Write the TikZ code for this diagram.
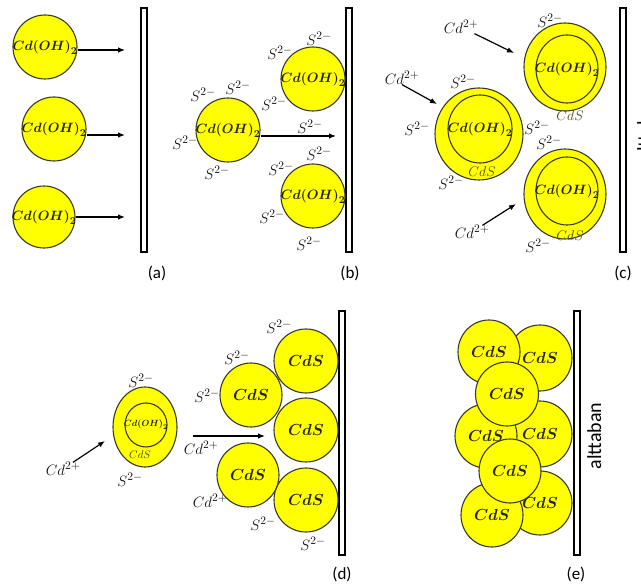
\RequirePackage{fix-cm}
\documentclass[tikz,border=0pt]{standalone}
\usepackage{fontspec}
\usepackage{bm}
\newfontfamily\labelfont{Carlito}
\usetikzlibrary{arrows.meta,shapes.geometric}

% larger script sizes so that charges read well next to the symbols
\DeclareMathSizes{9}{9}{7}{5}
\DeclareMathSizes{11}{11}{8.5}{6}
\DeclareMathSizes{13.5}{13.5}{10.5}{8}
\DeclareMathSizes{15}{15}{11.5}{8}
\DeclareMathSizes{16}{16}{12}{9}

\definecolor{grainfill}{HTML}{FFFF00}
\definecolor{grainedge}{HTML}{3A3A2A}
\definecolor{formula}{HTML}{24240E}
\definecolor{ion}{HTML}{101010}
\definecolor{shell}{HTML}{4A4A0E}

\newcommand{\hydroxide}{$\bm{Cd(OH)_2}$}
\newcommand{\sulfide}{$S^{2-}$}
\newcommand{\cadmium}{$Cd^{2+}$}
\newcommand{\cdsbold}{$\bm{CdS}$}
\newcommand{\cdsthin}{$CdS$}

\tikzset{
  grain/.style={ellipse, draw=grainedge, fill=grainfill, line width=1.1pt, inner sep=0pt},
  core/.style={ellipse, draw=grainedge, line width=1.1pt, inner sep=0pt},
  hydtext/.style={inner sep=0pt, text=formula, font=\fontsize{13.5}{16}\selectfont},
  cdstext/.style={inner sep=0pt, text=formula, font=\fontsize{16}{18}\selectfont},
  substrate/.style={rectangle, draw=black, fill=white, line width=2pt, inner sep=0pt},
  ionlabel/.style={text=ion, inner sep=0pt, font=\fontsize{15}{17}\selectfont},
  shelllabel/.style={text=shell, inner sep=0pt, font=\fontsize{14}{16}\selectfont},
  arr/.style={-{Latex[length=7pt,width=5.5pt]}, line width=1.2pt},
  panel/.style={inner sep=0pt, font=\labelfont\fontsize{17}{20}\selectfont},
  basetext/.style={inner sep=0pt, rotate=90, anchor=north,
    font=\labelfont\fontsize{20}{24}\selectfont},
}

\begin{document}
\begin{tikzpicture}[x=1pt,y=-1pt]
\useasboundingbox (0,0) rectangle (641,588);

% ---------------- (a) hydroxide grains moving to the substrate
\node[substrate, minimum width=6pt, minimum height=244pt] (barA) at (144,130) {};
\node[grain, minimum width=64pt, minimum height=64pt] (a1) at (45,47) {};
\node[grain, minimum width=64pt, minimum height=64pt] (a2) at (54,129) {};
\node[grain, minimum width=62pt, minimum height=62pt] (a3) at (44,217) {};
\node[hydtext] (a1t) at (a1) {\hydroxide};
\node[hydtext] (a2t) at (a2) {\hydroxide};
\node[hydtext] (a3t) at (a3) {\hydroxide};
\coordinate (ta1) at (125,50);
\coordinate (ta2) at (125,135);
\coordinate (ta3) at (125,217);
\draw[arr] (a1.east |- ta1) -- (ta1);
\draw[arr] (a2.east |- ta2) -- (ta2);
\draw[arr] (a3.east |- ta3) -- (ta3);
\node[panel] (labA) at (157,273) {(a)};

% ---------------- (b) sulfide ions gather round the grains
\node[substrate, minimum width=6pt, minimum height=244pt] (barB) at (348.5,130) {};
\node[grain, minimum width=64pt, minimum height=64pt] (b1) at (228,130) {};
\node[grain, minimum width=64pt, minimum height=64pt] (b2) at (313,79) {};
\node[grain, minimum width=64pt, minimum height=64pt] (b3) at (313,196) {};
\node[hydtext] (b1t) at (b1) {\hydroxide};
\node[hydtext] (b2t) at (b2) {\hydroxide};
\node[hydtext] (b3t) at (b3) {\hydroxide};
\coordinate (tb) at (336,136);
\draw[arr] (b1.east |- tb) -- (tb);
\node[ionlabel] (sb1) at (203,95) {\sulfide};
\node[ionlabel] (sb2) at (238,88) {\sulfide};
\node[ionlabel] (sb3) at (185,143) {\sulfide};
\node[ionlabel] (sb4) at (217,173) {\sulfide};
\node[ionlabel] (sb5) at (280,53) {\sulfide};
\node[ionlabel] (sb6) at (319,39) {\sulfide};
\node[ionlabel] (sb7) at (274,104) {\sulfide};
\node[ionlabel] (sb8) at (310,127) {\sulfide};
\node[ionlabel] (sb9) at (319,154) {\sulfide};
\node[ionlabel] (sb10) at (281,169) {\sulfide};
\node[ionlabel] (sb11) at (272,217) {\sulfide};
\node[ionlabel] (sb12) at (309,244) {\sulfide};
\node[panel] (labB) at (350,273) {(b)};

% ---------------- (c) a CdS shell grows round each core
\node[substrate, minimum width=6pt, minimum height=244pt] (barC) at (623,130) {};
\node[basetext] (baseC) at (637,128) {alttaban};
\node[grain, minimum width=88pt, minimum height=92pt] (cL) at (479,134) {};
\node[core, minimum width=64pt, minimum height=68pt] (cLi) at (480,129) {};
\node[grain, minimum width=82pt, minimum height=88pt] (cU) at (565,67) {};
\node[core, minimum width=62pt, minimum height=68pt] (cUi) at (567,69) {};
\node[grain, minimum width=82pt, minimum height=90pt] (cD) at (565,194) {};
\node[core, minimum width=62pt, minimum height=68pt] (cDi) at (567,191) {};
\node[hydtext] (cLt) at (cLi) {\hydroxide};
\node[hydtext] (cUt) at (cUi) {\hydroxide};
\node[hydtext] (cDt) at (cDi) {\hydroxide};
\node[shelllabel] (shL) at (482,172) {\cdsthin};
\node[shelllabel] (shU) at (570,116) {\cdsthin};
\node[shelllabel] (shD) at (570,236) {\cdsthin};
\node[ionlabel] (sc1) at (463,82) {\sulfide};
\node[ionlabel] (sc2) at (417,129) {\sulfide};
\node[ionlabel] (sc3) at (451,183) {\sulfide};
\node[ionlabel] (sc4) at (537,128) {\sulfide};
\node[ionlabel] (sc5) at (550,21) {\sulfide};
\node[ionlabel] (sc6) at (549,143) {\sulfide};
\node[ionlabel] (sc7) at (538,246) {\sulfide};
\node[ionlabel] (cc1) at (461,27) {\cadmium};
\node[ionlabel] (cc2) at (402,78) {\cadmium};
\node[ionlabel] (cc3) at (472,232) {\cadmium};
\coordinate (tc1) at (514,53);
\coordinate (tc2) at (437,104);
\coordinate (tc3) at (516,204);
\draw[arr] (cc1) -- (tc1);
\draw[arr] (cc2.south) -- (tc2);
\draw[arr] (cc3) -- (tc3);
\node[panel] (labC) at (623,273) {(c)};

% ---------------- (d) CdS grains settle on the substrate
\node[substrate, minimum width=6pt, minimum height=244pt] (barD) at (342,433) {};
\node[grain, minimum width=64pt, minimum height=80pt] (dE) at (145,427) {};
\node[core, minimum width=42pt, minimum height=44pt] (dEi) at (146,425) {};
\node[hydtext, font=\fontsize{9}{11}\selectfont] (dEt) at (dEi) {\hydroxide};
\node[shelllabel, font=\fontsize{11}{13}\selectfont] (shE) at (140,455) {\cdsthin};
\node[ionlabel] (sd1) at (141,381) {\sulfide};
\node[ionlabel] (sd2) at (130,480) {\sulfide};
\node[ionlabel] (cd1) at (63,469) {\cadmium};
\coordinate (td1) at (105,441);
\draw[arr] (cd1) -- (td1);

\node[grain, minimum width=64pt, minimum height=64pt] (d1) at (306,361) {};
\node[grain, minimum width=64pt, minimum height=64pt] (d2) at (306,430) {};
\node[grain, minimum width=64pt, minimum height=64pt] (d3) at (306,500) {};
\node[grain, minimum width=62pt, minimum height=64pt] (d4) at (251,395) {};
\node[grain, minimum width=62pt, minimum height=64pt] (d5) at (248,475) {};
\node[cdstext] (d1t) at (d1) {\cdsbold};
\node[cdstext] (d2t) at (d2) {\cdsbold};
\node[cdstext] (d3t) at (d3) {\cdsbold};
\node[cdstext] (d4t) at (d4) {\cdsbold};
\node[cdstext] (d5t) at (d5) {\cdsbold};
\coordinate (fd) at (193,436);
\coordinate (td2) at (265,436);
\draw[arr] (fd) -- (td2);
\node[ionlabel] (cd2) at (201,448) {\cadmium};
\node[ionlabel] (cd3) at (210,501) {\cadmium};
\node[ionlabel] (sd3) at (279,327) {\sulfide};
\node[ionlabel] (sd4) at (237,358) {\sulfide};
\node[ionlabel] (sd5) at (207,396) {\sulfide};
\node[ionlabel] (sd6) at (263,524) {\sulfide};
\node[ionlabel] (sd7) at (313,544) {\sulfide};
\node[panel] (labD) at (342,574) {(d)};

% ---------------- (e) compact CdS film (later grains lie on top)
\node[substrate, minimum width=6pt, minimum height=244pt] (barE) at (576.5,433) {};
\node[basetext] (baseE) at (587,436) {alttaban};
\node[grain, minimum width=64pt, minimum height=66pt] (e1) at (540,358) {};
\node[cdstext] (e1t) at (540,358) {\cdsbold};
\node[grain, minimum width=62pt, minimum height=64pt] (e2) at (489,352) {};
\node[cdstext] (e2t) at (489,352) {\cdsbold};
\node[grain, minimum width=64pt, minimum height=66pt] (e3) at (540,434) {};
\node[cdstext] (e3t) at (540,434) {\cdsbold};
\node[grain, minimum width=62pt, minimum height=64pt] (e4) at (486,436) {};
\node[cdstext] (e4t) at (486,436) {\cdsbold};
\node[grain, minimum width=63pt, minimum height=64pt] (e5) at (507,394) {};
\node[cdstext] (e5t) at (507,394) {\cdsbold};
\node[grain, minimum width=64pt, minimum height=64pt] (e6) at (540,503) {};
\node[cdstext] (e6t) at (540,503) {\cdsbold};
\node[grain, minimum width=62pt, minimum height=64pt] (e7) at (492,515) {};
\node[cdstext] (e7t) at (492,515) {\cdsbold};
\node[grain, minimum width=62pt, minimum height=64pt] (e8) at (510,471) {};
\node[cdstext] (e8t) at (510,471) {\cdsbold};
\node[panel] (labE) at (576,574) {(e)};
\end{tikzpicture}
\end{document}
